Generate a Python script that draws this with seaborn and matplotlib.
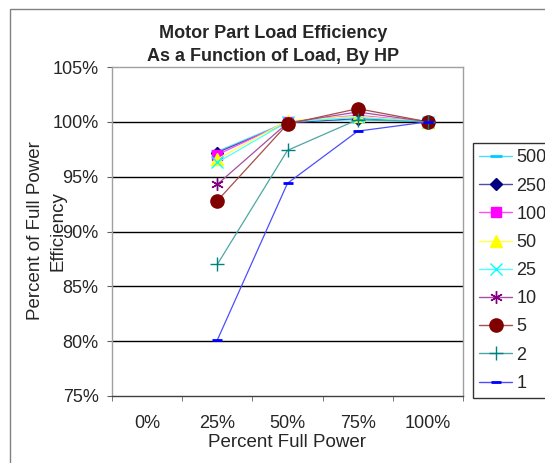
import matplotlib
matplotlib.use("Agg")
import matplotlib.pyplot as plt
from matplotlib.lines import Line2D
from matplotlib.patches import Rectangle
from matplotlib.colors import to_rgb
import numpy as np
import pandas as pd
import seaborn as sns

# ---------------- data ----------------
categories = ["0%", "25%", "50%", "75%", "100%"]
load_labels = ["25%", "50%", "75%", "100%"]
hp_labels = ["500", "250", "100", "50", "25", "10", "5", "2", "1"]
eff_500 = [97.3, 100.0, 100.2, 100.0]
eff_250 = [97.2, 99.9, 100.3, 100.0]
eff_100 = [97.0, 100.0, 100.6, 100.0]
eff_50 = [96.6, 100.1, 100.5, 100.0]
eff_25 = [96.3, 100.0, 100.4, 100.0]
eff_10 = [94.3, 99.9, 100.9, 100.0]
eff_5 = [92.8, 99.8, 101.2, 100.0]
eff_2 = [87.0, 97.4, 100.2, 100.0]
eff_1 = [80.1, 94.4, 99.15, 100.0]
y_ticks = [75, 80, 85, 90, 95, 100, 105]
y_tick_labels = ["75%", "80%", "85%", "90%", "95%", "100%", "105%"]

series = [eff_500, eff_250, eff_100, eff_50, eff_25, eff_10, eff_5, eff_2, eff_1]

# ---------------- styles ----------------
colors = ["#00CCFF", "#000080", "#FF00FF", "#FFFF00", "#00FFFF",
          "#800080", "#800000", "#008080", "#0000FF"]
markers = ["_", "D", "s", "^", "x", (6, 2, 0), "o", "+", "_"]
msizes = [8, 6.5, 7.5, 9, 8, 9, 9.5, 10, 7]
mews = [2, 1, 1, 1, 1, 1, 1, 1, 2]


def lighten(c, f=0.3):
    r = np.array(to_rgb(c))
    return tuple(r + (1 - r) * f)


sns.set_style("white")
plt.rcParams["font.family"] = ["Liberation Sans", "DejaVu Sans"]

fig = plt.figure(figsize=(5.45, 4.63), dpi=100)
ax = fig.add_axes([112 / 545, 1 - 396 / 463, 351 / 545, 329 / 463])

rows = []
for lab, vals in zip(hp_labels, series):
    for ld, v in zip(load_labels, vals):
        rows.append({"hp": lab, "load": ld, "x": categories.index(ld), "eff": v})
df = pd.DataFrame(rows)

# gridlines
for yv in y_ticks[1:-1]:
    ax.axhline(yv, color="black", lw=1, zorder=0.5)

for i, lab in enumerate(hp_labels):
    sub = df[df["hp"] == lab]
    filled = markers[i] in ("D", "s", "^", "o")
    sns.lineplot(data=sub, x="x", y="eff", ax=ax, color=lighten(colors[i]),
                 lw=0.9, marker=markers[i], markersize=msizes[i],
                 markerfacecolor=colors[i] if filled else "none",
                 markeredgecolor=colors[i], markeredgewidth=mews[i],
                 legend=False, zorder=3 + i, estimator=None)

ax.set_xlim(-0.5, 4.5)
ax.set_ylim(75, 105)
ax.set_yticks(y_ticks)
ax.set_yticklabels(y_tick_labels)
ax.set_xticks(range(len(categories)))
ax.set_xticklabels(categories)
ax.set_xticks(np.arange(-0.5, 4.6, 1), minor=True)
ax.tick_params(axis="x", which="major", length=0, pad=14, labelsize=13)
ax.tick_params(axis="x", which="minor", length=3.6, color="#606060", direction="out", bottom=True)
ax.tick_params(axis="y", which="major", length=3.6, color="#606060", direction="out",
               left=True, pad=6, labelsize=13)
for s in ["top", "right", "left"]:
    ax.spines[s].set_color("#A0A0A0")
    ax.spines[s].set_linewidth(1)
ax.spines["bottom"].set_color("#404040")
ax.spines["bottom"].set_linewidth(1)
ax.set_xlabel("Percent Full Power", fontsize=13.5, labelpad=1)
ax.set_ylabel("")
ax.grid(False)

fig.text(47 / 545, 1 - 231 / 463, "Percent of Full Power\nEfficiency", rotation=90,
         ha="center", va="center", fontsize=13.5, linespacing=1.45, multialignment="center")

fig.text(273 / 545, 1 - 45 / 463, "Motor Part Load Efficiency\nAs a Function of Load, By HP",
         ha="center", va="center", fontsize=13, fontweight="bold", linespacing=1.4)

# outer chart border
fig.patches.append(Rectangle((10 / 545, -0.2), 1.2, 1.2 - 9 / 463,
                             transform=fig.transFigure, fill=False,
                             edgecolor="#808080", lw=1))

handles = []
for i, lab in enumerate(hp_labels):
    filled = markers[i] in ("D", "s", "^", "o")
    handles.append(Line2D([], [], color=lighten(colors[i]), lw=1, marker=markers[i],
                          markersize=msizes[i],
                          markerfacecolor=colors[i] if filled else "none",
                          markeredgecolor=colors[i], markeredgewidth=mews[i]))
leg = fig.legend(handles, hp_labels, loc="upper left",
                 bbox_to_anchor=(473 / 545, 1 - 143 / 463),
                 frameon=True, fancybox=False, fontsize=13, handlelength=1.8,
                 handletextpad=0.25, labelspacing=0.62, borderpad=0.35,
                 borderaxespad=0)
leg.get_frame().set_edgecolor("black")
leg.get_frame().set_linewidth(1)

fig.savefig("out.png", dpi=100)
